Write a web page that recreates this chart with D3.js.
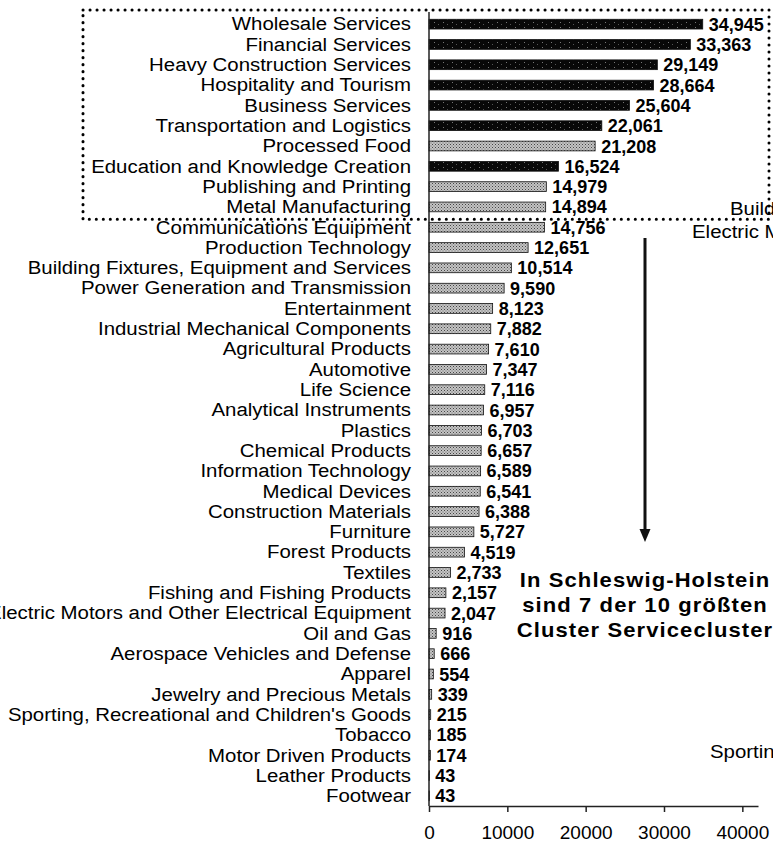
<!DOCTYPE html>
<html>
<head>
<meta charset="utf-8">
<script src="https://cdn.jsdelivr.net/npm/d3@7"></script>
<style>
  body { margin: 0; background: #fff; }
  svg { display: block; font-family: "Liberation Sans", Arial, sans-serif; }
</style>
</head>
<body>
<div id="chart"></div>
<script>
// cluster sizes (employees), sorted as in the picture
var categories = ["Wholesale Services", "Financial Services", "Heavy Construction Services",
    "Hospitality and Tourism", "Business Services", "Transportation and Logistics",
    "Processed Food", "Education and Knowledge Creation", "Publishing and Printing",
    "Metal Manufacturing", "Communications Equipment", "Production Technology",
    "Building Fixtures, Equipment and Services", "Power Generation and Transmission",
    "Entertainment", "Industrial Mechanical Components", "Agricultural Products",
    "Automotive", "Life Science", "Analytical Instruments", "Plastics", "Chemical Products",
    "Information Technology", "Medical Devices", "Construction Materials", "Furniture",
    "Forest Products", "Textiles", "Fishing and Fishing Products",
    "Electric Motors and Other Electrical Equipment", "Oil and Gas",
    "Aerospace Vehicles and Defense", "Apparel", "Jewelry and Precious Metals",
    "Sporting, Recreational and Children's Goods", "Tobacco", "Motor Driven Products",
    "Leather Products", "Footwear"]
var values = [34945, 33363, 29149, 28664, 25604, 22061, 21208, 16524, 14979, 14894,
    14756, 12651, 10514, 9590, 8123, 7882, 7610, 7347, 7116, 6957, 6703, 6657, 6589,
    6541, 6388, 5727, 4519, 2733, 2157, 2047, 916, 666, 554, 339, 215, 185, 174, 43, 43]
var serviceClusters = ["Wholesale Services", "Financial Services", "Heavy Construction Services",
    "Hospitality and Tourism", "Business Services", "Transportation and Logistics",
    "Education and Knowledge Creation"]
var xTicks = [0, 10000, 20000, 30000, 40000]
var noteLines = ["In Schleswig-Holstein", "sind 7 der 10 größten", "Cluster Servicecluster"]
// labels of the next chart, cut off by the page edge
var strayLabels = [
    { text: "Building Fixtures, Equipment and Services", x: 730, y: 215 },
    { text: "Electric Motors and Other Electrical Equipment", x: 692, y: 238 },
    { text: "Sporting, Recreational and Children's Goods", x: 710, y: 758 }]

var width = 773, height = 843

var svg = d3.select("#chart").append("svg")
    .attr("width", width)
    .attr("height", height)

// bar fills
var defs = svg.append("defs")
var gp = defs.append("pattern").attr("id", "grayPat")
    .attr("width", 3).attr("height", 3).attr("patternUnits", "userSpaceOnUse")
gp.append("rect").attr("width", 3).attr("height", 3).attr("fill", "#c4c4c4")
gp.append("rect").attr("width", 1).attr("height", 1).attr("fill", "#444")
gp.append("rect").attr("x", 1.5).attr("y", 1.5).attr("width", 1).attr("height", 1).attr("fill", "#666")
var bp = defs.append("pattern").attr("id", "blackPat")
    .attr("width", 9).attr("height", 5).attr("patternUnits", "userSpaceOnUse")
bp.append("rect").attr("width", 9).attr("height", 5).attr("fill", "#080808")
bp.append("rect").attr("x", 2).attr("y", 2).attr("width", 1).attr("height", 1).attr("fill", "#777")
bp.append("rect").attr("x", 6).attr("y", 4).attr("width", 1).attr("height", 1).attr("fill", "#555")

var x = d3.scaleLinear()
    .domain([0, 42000])
    .range([429, 758])

var y = d3.scaleBand()
    .domain(categories)
    .range([14, 806])
    .paddingInner(0.52)
    .paddingOuter(0.26)

// bars
svg.append("g").selectAll("rect")
    .data(values)
    .enter()
    .append("rect")
    .attr("x", x(0))
    .attr("y", function (d, i) { return y(categories[i]) })
    .attr("width", function (d) { return x(d) - x(0) })
    .attr("height", y.bandwidth())
    .attr("fill", function (d, i) {
        return serviceClusters.indexOf(categories[i]) >= 0 ? "url(#blackPat)" : "url(#grayPat)"
    })
    .attr("stroke", "#111")
    .attr("stroke-width", 0.8)

// value labels
svg.append("g").selectAll("text")
    .data(values)
    .enter()
    .append("text")
    .attr("x", function (d) { return x(d) + 6 })
    .attr("y", function (d, i) { return y(categories[i]) + y.bandwidth() / 2 + 6.5 })
    .style("font-size", "18px")
    .style("font-weight", "bold")
    .text(function (d) { return d3.format(",")(d) })

// category labels (a bit wide in the original)
svg.append("g").selectAll("text")
    .data(categories)
    .enter()
    .append("text")
    .attr("transform", function (d) {
        return "translate(411," + (y(d) + y.bandwidth() / 2 + 6.3) + ") scale(1.16,1)"
    })
    .attr("text-anchor", "end")
    .style("font-size", "17.6px")
    .text(function (d) { return d })

// x axis
var xAxis = d3.axisBottom(x)
    .tickValues(xTicks)
    .tickFormat(d3.format("d"))
    .tickSizeInner(6)
    .tickSizeOuter(0)
    .tickPadding(14)
var gx = svg.append("g")
    .attr("transform", "translate(0,806)")
    .call(xAxis)
gx.select(".domain").attr("stroke", "#222").attr("stroke-width", 1.5)
gx.selectAll(".tick line").attr("stroke", "#222").attr("stroke-width", 1.5)
gx.selectAll(".tick text")
    .style("font-size", "19px")
    .style("font-family", "Liberation Sans, Arial, sans-serif")
    .attr("fill", "#000")

// y axis line only
var gy = svg.append("g")
    .attr("transform", "translate(429,0)")
    .call(d3.axisLeft(y).tickSize(0).tickFormat(""))
gy.select(".domain").attr("stroke", "#222").attr("stroke-width", 1.5)
gy.select(".domain").attr("d", "M0,12V806")

// dotted frame round the ten largest clusters
svg.append("rect")
    .attr("x", 83)
    .attr("y", 10)
    .attr("width", 686)
    .attr("height", y(categories[10]) - 3 - 10)
    .attr("fill", "none")
    .attr("stroke", "#000")
    .attr("stroke-width", 3)
    .attr("stroke-linecap", "round")
    .attr("stroke-dasharray", "0.1,6.9")

// arrow
svg.append("line")
    .attr("x1", 645).attr("y1", 238)
    .attr("x2", 645).attr("y2", 532)
    .attr("stroke", "#111")
    .attr("stroke-width", 3)
svg.append("path")
    .attr("d", "M639.5,529L650.5,529L645,542Z")
    .attr("fill", "#111")

// note
svg.append("g").selectAll("text")
    .data(noteLines)
    .enter()
    .append("text")
    .attr("transform", function (d, i) { return "translate(645," + (587 + i * 25) + ") scale(1.1,1)" })
    .attr("text-anchor", "middle")
    .style("font-size", "20px")
    .style("font-weight", "bold")
    .style("letter-spacing", "1px")
    .text(function (d) { return d })

svg.append("g").selectAll("text")
    .data(strayLabels)
    .enter()
    .append("text")
    .attr("transform", function (d) { return "translate(" + d.x + "," + d.y + ") scale(1.16,1)" })
    .style("font-size", "17.6px")
    .text(function (d) { return d.text })
</script>
</body>
</html>
